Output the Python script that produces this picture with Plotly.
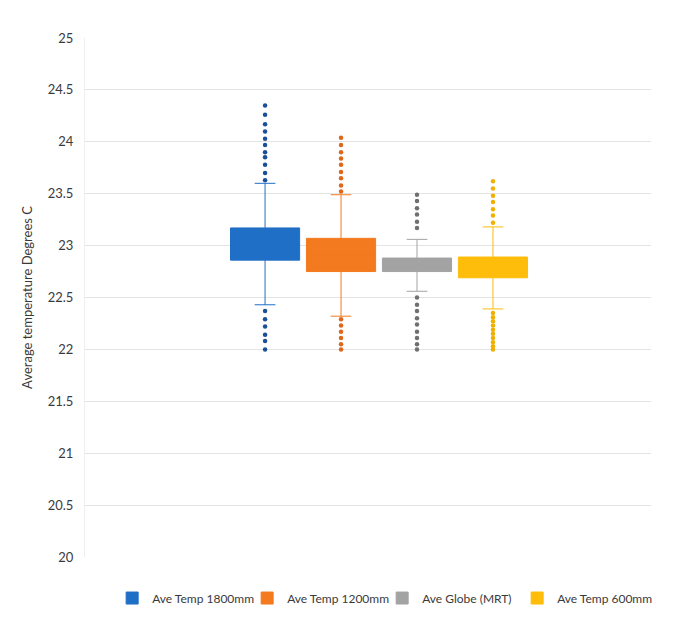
import plotly.graph_objects as go

series = ["Ave Temp 1800mm", "Ave Temp 1200mm", "Ave Globe (MRT)", "Ave Temp 600mm"]
colors = ["#1f6fc6", "#f47a1f", "#a3a3a3", "#fdbd0a"]
dot_colors = ["#1b4f9a", "#e0661a", "#707070", "#f0b000"]

q1 = [22.86, 22.75, 22.75, 22.69]
median = [23.01, 22.91, 22.82, 22.79]
q3 = [23.17, 23.07, 22.88, 22.89]
lower_whisker = [22.43, 22.32, 22.56, 22.39]
upper_whisker = [23.60, 23.49, 23.06, 23.18]

outliers = [
    [24.35, 24.26, 24.17, 24.10, 24.03, 23.97, 23.90, 23.85, 23.78, 23.70, 23.63,
     22.37, 22.29, 22.22, 22.14, 22.08, 22.00],
    [24.04, 23.97, 23.90, 23.84, 23.78, 23.71, 23.65, 23.58, 23.52,
     22.29, 22.23, 22.17, 22.11, 22.05, 22.00],
    [23.49, 23.43, 23.36, 23.30, 23.23, 23.17,
     22.50, 22.43, 22.37, 22.30, 22.24, 22.17, 22.11, 22.05, 22.00],
    [23.62, 23.55, 23.48, 23.42, 23.35, 23.29, 23.22,
     22.35, 22.31, 22.27, 22.23, 22.19, 22.15, 22.11, 22.07, 22.03, 22.00],
]

y_ticks = [20, 20.5, 21, 21.5, 22, 22.5, 23, 23.5, 24, 24.5, 25]

fig = go.Figure()
for i, name in enumerate(series):
    fig.add_trace(go.Box(
        x=[name], q1=[q1[i]], median=[median[i]], q3=[q3[i]],
        lowerfence=[lower_whisker[i]], upperfence=[upper_whisker[i]],
        name=name, fillcolor=colors[i],
        line=dict(color=colors[i], width=1),
        width=0.91, whiskerwidth=0.3, boxpoints=False, showlegend=True,
    ))
for i, name in enumerate(series):
    fig.add_trace(go.Scatter(
        x=[name] * len(outliers[i]), y=outliers[i], mode="markers",
        marker=dict(color=dot_colors[i], size=4.5),
        showlegend=False, hoverinfo="y",
    ))

font = "Lato, 'Open Sans', sans-serif"
fig.update_layout(
    width=672, height=616,
    paper_bgcolor="white", plot_bgcolor="white",
    margin=dict(l=77, r=29, t=30, b=66),
    font=dict(family=font, size=13, color="#3a3a3a"),
    legend=dict(orientation="h", x=0.525, xanchor="center",
                y=-0.077, yanchor="middle",
                font=dict(size=12, color="#3a3a3a"), itemwidth=30,
                entrywidth=90, entrywidthmode="pixels",
                tracegroupgap=0, traceorder="normal"),
)
fig.update_xaxes(
    type="category", categoryorder="array", categoryarray=series,
    range=[-2.37, 5.08], showticklabels=False, showgrid=False,
    zeroline=False, showline=False, ticks="", automargin=False,
)
fig.update_yaxes(
    range=[20, 25], tickvals=y_ticks, ticktext=[f"{v:g}" for v in y_ticks],
    showgrid=True, gridcolor="#e4e4e4", gridwidth=1, zeroline=False,
    showline=True, linecolor="#eeeeee", ticks="", ticklabelstandoff=8,
    automargin=False,
    title=dict(text="Average temperature Degrees C", font=dict(size=13, color="#3a3a3a"), standoff=12),
)
fig.write_html("out.html")
